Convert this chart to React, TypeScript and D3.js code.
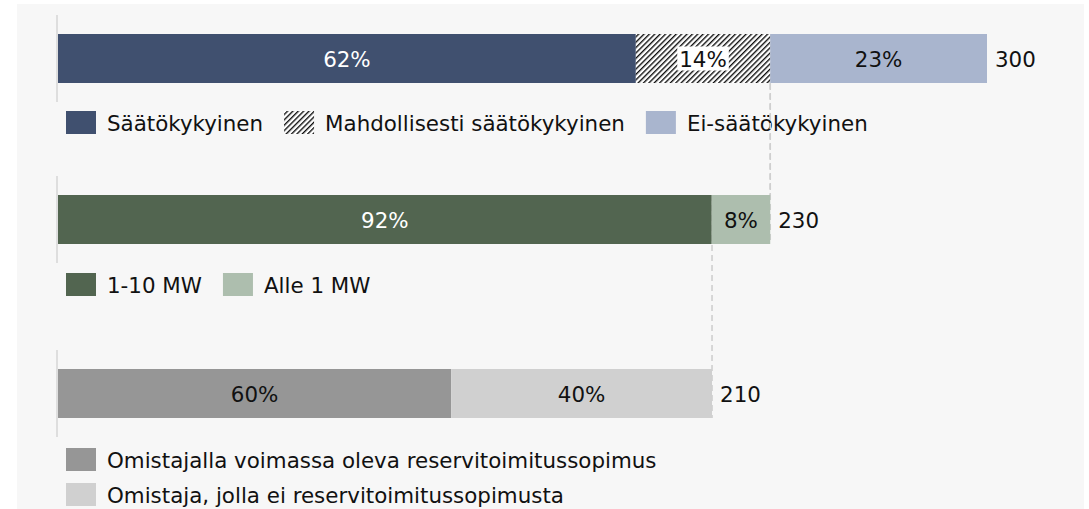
import React, { useEffect, useRef } from 'react'
import * as d3 from 'd3'

// values in MW
const capabilityLabels = ['Säätökykyinen', 'Mahdollisesti säätökykyinen', 'Ei-säätökykyinen']
const capabilityValues = [186.6, 43.4, 70.0]
const capabilityColors = ['#40506f', 'url(#hatch)', '#a9b5ce']

const sizeLabels = ['1-10 MW', 'Alle 1 MW']
const sizeValues = [211.1, 18.9]
const sizeColors = ['#526550', '#adbeae']

const contractLabels = ['Omistajalla voimassa oleva reservitoimitussopimus', 'Omistaja, jolla ei reservitoimitussopimusta']
const contractValues = [127.0, 84.2]
const contractColors = ['#969696', '#d0d0d0']

const totalLabels = ['300', '230', '210']
const xTicks = [0, 300]

const W = 1089
const H = 509
const FONT = '"DejaVu Sans", Verdana, sans-serif'

export default function App() {
  const ref = useRef<SVGSVGElement>(null)

  useEffect(() => {
    document.body.style.margin = '0'
    const svg = d3.select(ref.current)
    svg.selectAll('*').remove()

    const defs = svg.append('defs')
    const pat = defs.append('pattern')
      .attr('id', 'hatch')
      .attr('patternUnits', 'userSpaceOnUse')
      .attr('width', 3.8)
      .attr('height', 3.8)
      .attr('patternTransform', 'rotate(45)')
    pat.append('rect').attr('width', 3.8).attr('height', 3.8).attr('fill', '#fff')
    pat.append('line')
      .attr('x1', 0.7).attr('x2', 0.7).attr('y1', 0).attr('y2', 3.8)
      .attr('stroke', '#000').attr('stroke-width', 1.3)

    // panel
    svg.append('rect')
      .attr('x', 17).attr('y', 4)
      .attr('width', 1067).attr('height', H - 4)
      .attr('fill', '#f7f7f7')

    const x = d3.scaleLinear().domain(xTicks).range([58, 987])

    const rows = [
      { values: capabilityValues, labels: capabilityLabels, colors: capabilityColors, top: 34, legendTop: 111, stacked: false },
      { values: sizeValues, labels: sizeLabels, colors: sizeColors, top: 195, legendTop: 273, stacked: false },
      { values: contractValues, labels: contractLabels, colors: contractColors, top: 369, legendTop: 448, stacked: true },
    ]
    const barH = 49

    const g = svg.append('g').style('font-family', FONT).style('font-size', '21.4px')

    // connectors (behind bars)
    rows.forEach((row, i) => {
      if (i === rows.length - 1) return
      const next = rows[i + 1]
      const total = d3.sum(next.values)
      g.append('line')
        .attr('x1', x(total)).attr('x2', x(total))
        .attr('y1', row.top).attr('y2', next.top + barH)
        .attr('stroke', '#cfcfcf')
        .attr('stroke-width', 1.6)
        .attr('stroke-dasharray', '6,4')
    })

    rows.forEach((row, i) => {
      const total = d3.sum(row.values)
      const ends = d3.cumsum(row.values)
      const starts = ends.map((e, k) => e - row.values[k])

      // axis line
      g.append('line')
        .attr('x1', x(0) - 1).attr('x2', x(0) - 1)
        .attr('y1', row.top - 19).attr('y2', row.top + barH + 19)
        .attr('stroke', '#d6d6d6').attr('stroke-width', 1.5)

      row.values.forEach((v, k) => {
        g.append('rect')
          .attr('x', x(starts[k]))
          .attr('y', row.top)
          .attr('width', x(ends[k]) - x(starts[k]))
          .attr('height', barH)
          .attr('fill', row.colors[k])

        const pct = Math.round((v / total) * 100) + '%'
        const cx = (x(starts[k]) + x(ends[k])) / 2
        const white = k === 0 && i < 2
        const t = g.append('text')
          .attr('x', cx)
          .attr('y', row.top + barH / 2 + 8)
          .attr('text-anchor', 'middle')
          .attr('fill', white ? '#fff' : '#111')
          .text(pct)
        if (row.colors[k].startsWith('url')) {
          const bb = (t.node() as SVGTextElement).getBBox()
          g.insert('rect', () => t.node())
            .attr('x', bb.x - 2).attr('y', row.top + barH / 2 - 12)
            .attr('width', bb.width + 4).attr('height', 24)
            .attr('fill', '#fff')
        }
      })

      g.append('text')
        .attr('x', x(total) + 8)
        .attr('y', row.top + barH / 2 + 8)
        .attr('fill', '#111')
        .text(totalLabels[i])

      // legend
      let lx = 66
      row.labels.forEach((lab, k) => {
        const ly = row.stacked ? row.legendTop + k * 35 : row.legendTop
        g.append('rect')
          .attr('x', lx).attr('y', ly)
          .attr('width', 30).attr('height', 23)
          .attr('fill', row.colors[k])
        const t = g.append('text')
          .attr('x', lx + 41)
          .attr('y', ly + 20)
          .attr('fill', '#111')
          .text(lab)
        if (!row.stacked) {
          lx = lx + 41 + (t.node() as SVGTextElement).getComputedTextLength() + 21
        }
      })
    })

    // first connector drawn again over the legend text, as in the reference
    const firstTotal = d3.sum(rows[1].values)
    g.append('line')
      .attr('x1', x(firstTotal)).attr('x2', x(firstTotal))
      .attr('y1', rows[0].top + barH).attr('y2', rows[1].top)
      .attr('stroke', '#cfcfcf')
      .attr('stroke-width', 1.6)
      .attr('stroke-dasharray', '6,4')
  }, [])

  return <svg ref={ref} width={W} height={H} style={{ display: 'block', background: '#fff' }} />
}
